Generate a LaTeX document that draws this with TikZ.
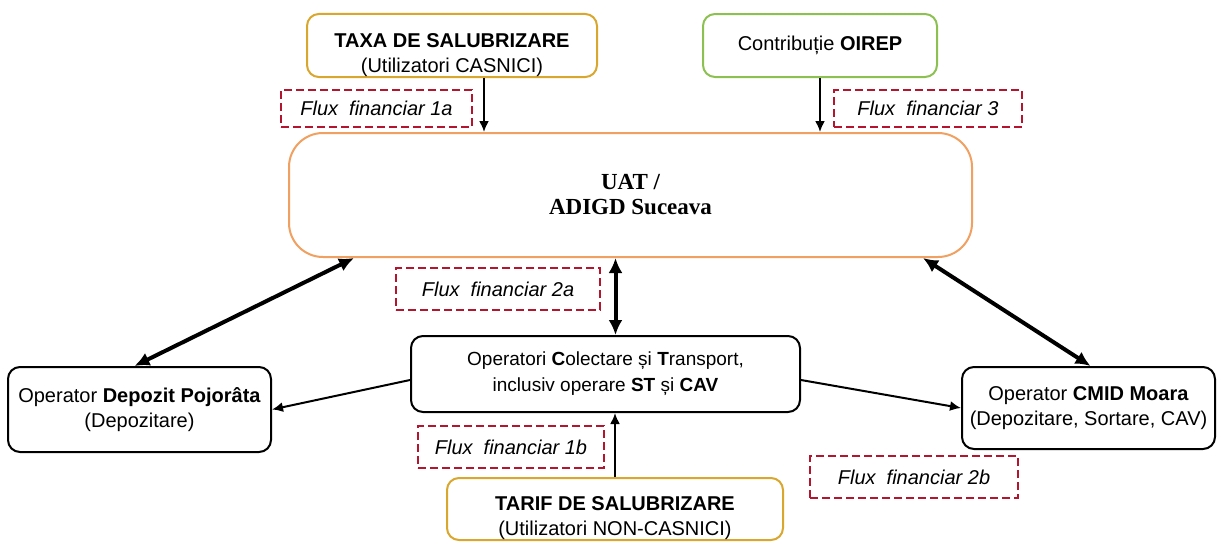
\documentclass[tikz,border=0pt]{standalone}
\usepackage{fontspec}
\setmainfont{Liberation Sans}
\newfontfamily\uatfont{Liberation Serif}
\usetikzlibrary{arrows.meta}
\definecolor{taxagold}{HTML}{D9A62E}
\definecolor{oirepgreen}{HTML}{8CC152}
\definecolor{uatorange}{HTML}{F0A060}
\definecolor{fluxred}{HTML}{B4142E}
\begin{document}
\begin{tikzpicture}[x=1pt, y=-1pt, font=\fontsize{20}{25}\selectfont,
    box/.style = {draw, line width=2pt, rounded corners=12pt, align=center, inner sep=0pt},
    flux/.style = {draw=fluxred, line width=2.5pt, dash pattern=on 8pt off 4pt, font=\fontsize{20}{24}\selectfont\itshape, inner sep=0pt},
    thin/.style = {-{Latex[length=11pt, width=10pt]}, line width=2pt},
    fat/.style = {{Latex[length=15pt, width=14pt]}-{Latex[length=15pt, width=14pt]}, line width=4pt}]
  \useasboundingbox (0,0) rectangle (1222,541);
  % sources
  \node[box, draw=taxagold, minimum width=290pt, minimum height=63pt] (taxa) at (452,45.5) {\rule{0pt}{34pt}\textbf{TAXA DE SALUBRIZARE}\\(Utilizatori CASNICI)};
  \node[box, draw=oirepgreen, minimum width=234pt, minimum height=63pt] (oirep) at (820,45.5) {Contribuție \textbf{OIREP}};
  \node[box, draw=uatorange, rounded corners=34pt, minimum width=683pt, minimum height=124pt] (uat) at (630.5,195) {\uatfont\bfseries\fontsize{23}{28}\selectfont UAT /\\ \uatfont\bfseries\fontsize{23}{28}\selectfont ADIGD Suceava};
  % operators
  \node[box, minimum width=389pt, minimum height=76pt, font=\fontsize{19}{26}\selectfont] (ops) at (605.5,374) {Operatori \textbf{C}olectare și \textbf{T}ransport,\\inclusiv operare \textbf{ST} și \textbf{CAV}};
  \node[box, minimum width=263pt, minimum height=85pt] (dep) at (139.5,409.5) {Operator \textbf{Depozit Pojorâta}\\(Depozitare)};
  \node[box, minimum width=253pt, minimum height=82pt] (cmid) at (1088.5,408) {Operator \textbf{CMID Moara}\\(Depozitare, Sortare, CAV)};
  \node[box, draw=taxagold, minimum width=336pt, minimum height=62pt] (tarif) at (615,509) {\rule{0pt}{32pt}\textbf{TARIF DE SALUBRIZARE}\\(Utilizatori NON-CASNICI)};
  % flux labels
  \node[flux, minimum width=191pt, minimum height=37pt] (f1a) at (376.5,108.5) {Flux\ \ financiar 1a};
  \node[flux, minimum width=188pt, minimum height=37pt] (f3) at (928,108.5) {Flux\ \ financiar 3};
  \node[flux, minimum width=204pt, minimum height=42pt] (f2a) at (498,289) {Flux\ \ financiar 2a};
  \node[flux, minimum width=186pt, minimum height=42pt] (f1b) at (511,447) {Flux\ \ financiar 1b};
  \node[flux, minimum width=208pt, minimum height=42pt] (f2b) at (914,477) {Flux\ \ financiar 2b};
  % connectors
  \draw[thin] ([xshift=32pt]taxa.south) -- ([xshift=32pt]taxa.south |- uat.north);
  \draw[thin] (oirep.south) -- (oirep.south |- uat.north);
  \draw[fat] ([xshift=10pt]ops.north) -- ([xshift=10pt]ops.north |- uat.south);
  \draw[fat] ([xshift=66pt]uat.south west) -- ([xshift=-5pt]dep.north);
  \draw[fat] ([xshift=-50pt]uat.south east) -- ([xshift=2pt]cmid.north);
  \draw[thin] ([yshift=-6pt]ops.west) -- (dep.east);
  \draw[thin] ([yshift=-6pt]ops.east) -- (cmid.west);
  \draw[thin] (tarif.north) -- (tarif.north |- ops.south);
\end{tikzpicture}
\end{document}
